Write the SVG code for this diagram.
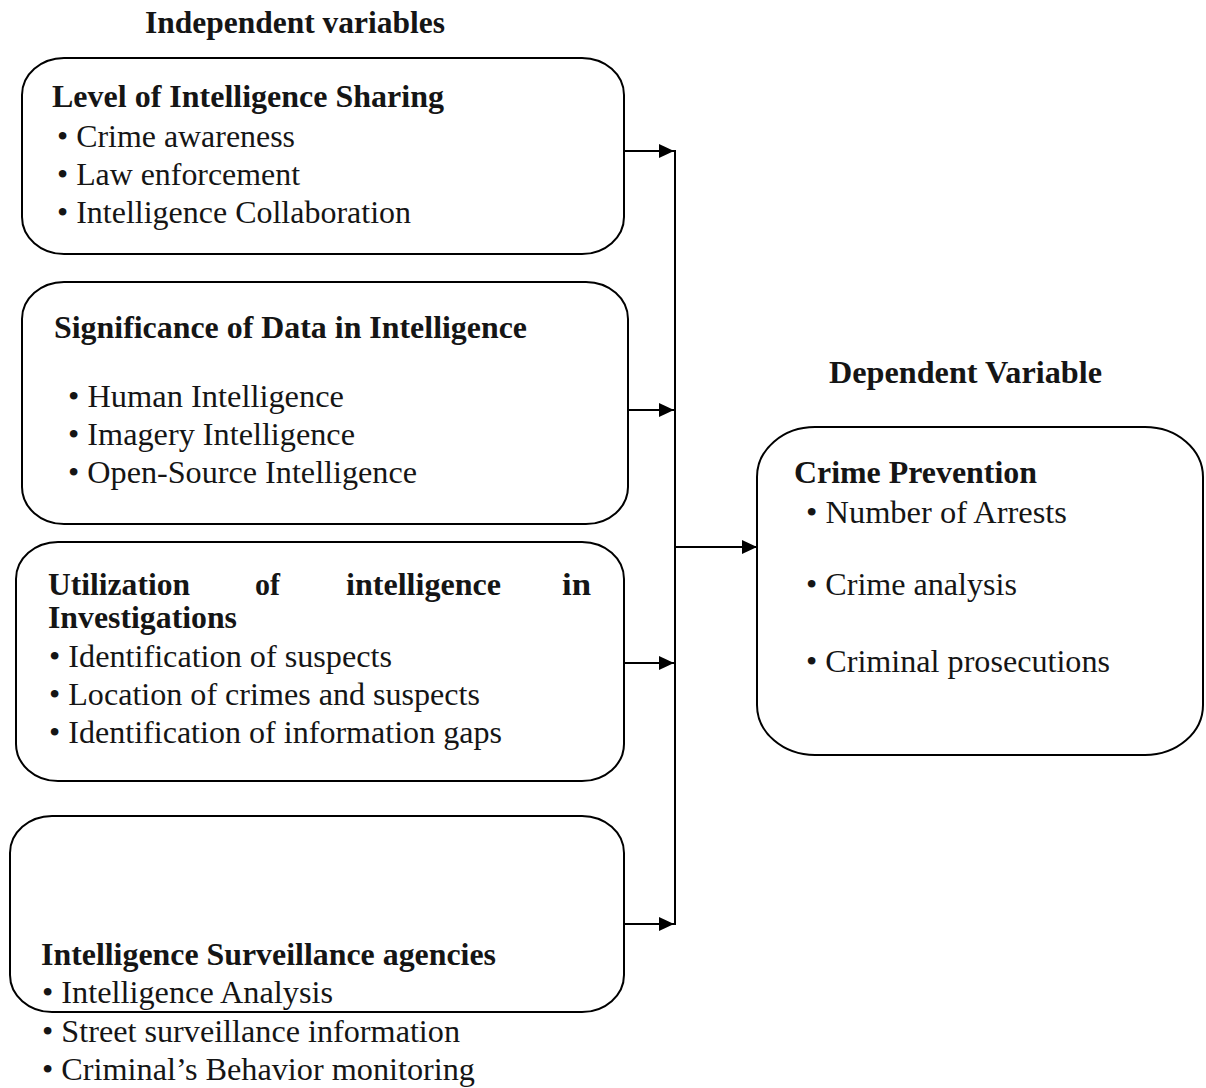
<svg xmlns="http://www.w3.org/2000/svg" width="1206" height="1088" viewBox="0 0 1206 1088">
<style>
.box{fill:none;stroke:#000;stroke-width:2}
.b{font-weight:bold}
.c{fill:none;stroke:#000;stroke-width:2}
</style>
<defs>
<marker id="ah" markerUnits="userSpaceOnUse" markerWidth="16" markerHeight="16" refX="15" refY="7" orient="auto">
<path d="M0,0 L15,7 L0,14 Z" fill="#000"/>
</marker>
</defs>
<rect width="1206" height="1088" fill="#fff"/>

<g font-family="Liberation Serif, Times New Roman, serif" font-size="31" fill="#151515">
<text class="b" x="145" y="33" textLength="300" lengthAdjust="spacingAndGlyphs">Independent variables</text>
<text class="b" x="829" y="383" textLength="273" lengthAdjust="spacingAndGlyphs">Dependent Variable</text>

<g id="level-sharing">
<rect class="box" x="22" y="58" width="602" height="196" rx="42" ry="37"/>
<text class="b" x="52" y="107" textLength="392" lengthAdjust="spacingAndGlyphs">Level of Intelligence Sharing</text>
<text x="57" y="147" textLength="238" lengthAdjust="spacingAndGlyphs">• Crime awareness</text>
<text x="57" y="185" textLength="243" lengthAdjust="spacingAndGlyphs">• Law enforcement</text>
<text x="57" y="223" textLength="354" lengthAdjust="spacingAndGlyphs">• Intelligence Collaboration</text>
</g>

<g id="significance-data">
<rect class="box" x="22" y="282" width="606" height="242" rx="42" ry="37"/>
<text class="b" x="54" y="338" textLength="473" lengthAdjust="spacingAndGlyphs">Significance of Data in Intelligence</text>
<text x="68" y="407" textLength="276" lengthAdjust="spacingAndGlyphs">• Human Intelligence</text>
<text x="68" y="445" textLength="287" lengthAdjust="spacingAndGlyphs">• Imagery Intelligence</text>
<text x="68" y="483" textLength="349" lengthAdjust="spacingAndGlyphs">• Open-Source Intelligence</text>
</g>

<g id="utilization">
<rect class="box" x="16" y="542" width="608" height="239" rx="42" ry="37"/>
<text class="b" x="48" y="595" textLength="142" lengthAdjust="spacingAndGlyphs">Utilization</text>
<text class="b" x="255" y="595" textLength="25" lengthAdjust="spacingAndGlyphs">of</text>
<text class="b" x="346" y="595" textLength="155" lengthAdjust="spacingAndGlyphs">intelligence</text>
<text class="b" x="562" y="595" textLength="29" lengthAdjust="spacingAndGlyphs">in</text>
<text class="b" x="48" y="628" textLength="189" lengthAdjust="spacingAndGlyphs">Investigations</text>
<text x="49" y="667" textLength="343" lengthAdjust="spacingAndGlyphs">• Identification of suspects</text>
<text x="49" y="705" textLength="431" lengthAdjust="spacingAndGlyphs">• Location of crimes and suspects</text>
<text x="49" y="743" textLength="453" lengthAdjust="spacingAndGlyphs">• Identification of information gaps</text>
</g>

<g id="surveillance">
<rect class="box" x="10" y="816" width="614" height="196" rx="42" ry="37"/>
<text class="b" x="41" y="965" textLength="455" lengthAdjust="spacingAndGlyphs">Intelligence Surveillance agencies</text>
<text x="42" y="1003" textLength="291" lengthAdjust="spacingAndGlyphs">• Intelligence Analysis</text>
<text x="42" y="1042" textLength="418" lengthAdjust="spacingAndGlyphs">• Street surveillance information</text>
<text x="42" y="1080" textLength="433" lengthAdjust="spacingAndGlyphs">• Criminal’s Behavior monitoring</text>
</g>

<g id="crime-prevention">
<rect class="box" x="757" y="427" width="446" height="328" rx="58" ry="50"/>
<text class="b" x="794" y="483" textLength="243" lengthAdjust="spacingAndGlyphs">Crime Prevention</text>
<text x="806" y="523" textLength="261" lengthAdjust="spacingAndGlyphs">• Number of Arrests</text>
<text x="806" y="595" textLength="211" lengthAdjust="spacingAndGlyphs">• Crime analysis</text>
<text x="806" y="672" textLength="304" lengthAdjust="spacingAndGlyphs">• Criminal prosecutions</text>
</g>
</g>

<g id="connectors">
<line class="c" x1="675" y1="150" x2="675" y2="925"/>
<line class="c" x1="624" y1="151" x2="674" y2="151" marker-end="url(#ah)"/>
<line class="c" x1="628" y1="410" x2="674" y2="410" marker-end="url(#ah)"/>
<line class="c" x1="624" y1="663" x2="674" y2="663" marker-end="url(#ah)"/>
<line class="c" x1="624" y1="924" x2="674" y2="924" marker-end="url(#ah)"/>
<line class="c" x1="675" y1="547" x2="757" y2="547" marker-end="url(#ah)"/>
</g>
</svg>
